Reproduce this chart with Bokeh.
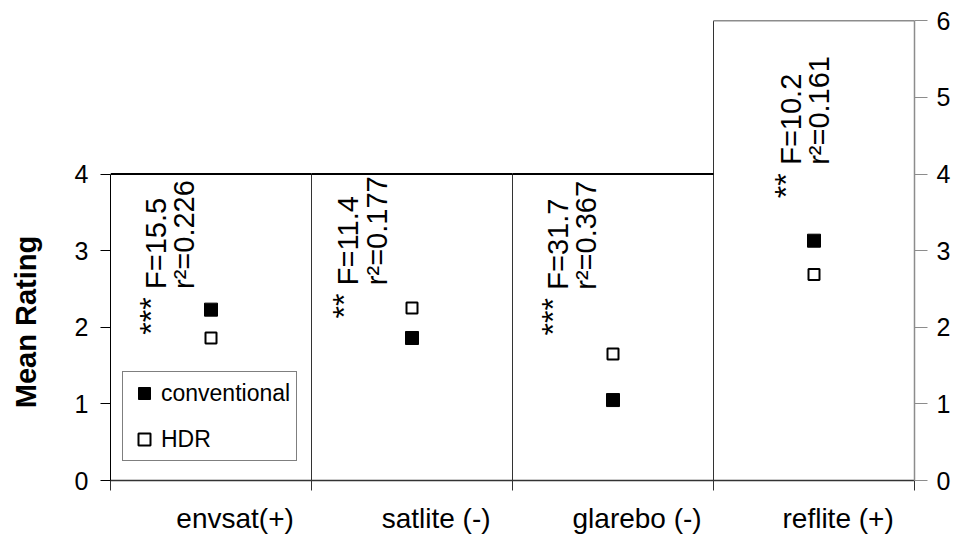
import math
from bokeh.plotting import figure
from bokeh.models import Range1d, LinearAxis, FixedTicker, Legend, LegendItem
from bokeh.core.properties import value
from bokeh.embed import file_html
from bokeh.resources import INLINE

# ---------------- data ----------------
categories = ["envsat(+)", "satlite (-)", "glarebo (-)", "reflite (+)"]
conventional = [2.23, 1.86, 1.05, 3.13]
hdr = [1.86, 2.25, 1.65, 2.69]
significance = ["***", "**", "***", "**"]
f_values = [15.5, 11.4, 31.7, 10.2]
r2_values = [0.226, 0.177, 0.367, 0.161]
panel_axis_max = [4, 4, 4, 6]          # panels 1-3 use the left axis (0-4), panel 4 the right axis (0-6)
left_ticks = [0, 1, 2, 3, 4]
right_ticks = [0, 1, 2, 3, 4, 5, 6]
y_title = "Mean Rating"

# ---------------- layout constants ----------------
FONT = "Liberation Sans"
n = len(categories)
centers = [i + 0.5 for i in range(n)]
boundaries = list(range(n + 1))
label_shift = 0.12
label_pos = [c + label_shift for c in centers]
ann_shift = [0.0, -0.04, 0.0, 0.16]      # per-panel horizontal shift of the annotation block
ann_base = [2.50, 2.55, 2.49, 4.12]      # where the rotated F / r2 text starts
dx_star, dx_f, dx_r2 = -0.298, -0.276, -0.136
star_gap = 0.11
title_pad = 18                           # non-breaking spaces to centre the title on the 0-4 part

p = figure(width=953, height=536,
           x_range=Range1d(0, n), y_range=Range1d(0, 6.03),
           output_backend="svg", toolbar_location=None,
           min_border_left=110, min_border_right=38,
           min_border_top=18, min_border_bottom=55)
p.outline_line_color = None
p.grid.visible = False
p.background_fill_color = "white"

# ---- panel borders ----
sep_x = boundaries[1:-1]
sep_top = [max(panel_axis_max[i - 1], panel_axis_max[i]) for i in sep_x]
p.segment(x0=sep_x, y0=[0] * len(sep_x), x1=sep_x, y1=sep_top,
          line_color="#333333", line_width=1)
left_idx = [i for i in range(n) if panel_axis_max[i] == max(left_ticks)]
right_idx = [i for i in range(n) if panel_axis_max[i] != max(left_ticks)]
p.segment(x0=[boundaries[i] for i in left_idx], x1=[boundaries[i + 1] for i in left_idx],
          y0=[panel_axis_max[i] for i in left_idx], y1=[panel_axis_max[i] for i in left_idx],
          line_color="black", line_width=2)
p.segment(x0=[boundaries[i] for i in right_idx], x1=[boundaries[i + 1] for i in right_idx],
          y0=[panel_axis_max[i] for i in right_idx], y1=[panel_axis_max[i] for i in right_idx],
          line_color="#8c8c8c", line_width=1.5)

# ---- points ----
r_conv = p.scatter(x=centers, y=conventional, marker="square", size=13,
                   fill_color="black", line_color="black", line_width=1)
r_hdr = p.scatter(x=centers, y=hdr, marker="square", size=11,
                  fill_color="white", line_color="black", line_width=2)

# ---- annotations ----
star_x = [c + s + dx_star for c, s in zip(centers, ann_shift)]
f_x = [c + s + dx_f for c, s in zip(centers, ann_shift)]
r2_x = [c + s + dx_r2 for c, s in zip(centers, ann_shift)]
star_y = [b - star_gap for b in ann_base]
f_text = [f"F={v}" for v in f_values]
r2_text = [f"r\u00b2={v:.3f}" for v in r2_values]

p.text(x=star_x, y=star_y, text=significance, angle=math.pi / 2,
       text_align="right", text_baseline="middle",
       text_font=value(FONT), text_font_size="32px", text_color="black")
p.text(x=f_x, y=ann_base, text=f_text, angle=math.pi / 2,
       text_align="left", text_baseline="middle",
       text_font=value(FONT), text_font_size="29px", text_color="black")
p.text(x=r2_x, y=ann_base, text=r2_text, angle=math.pi / 2,
       text_align="left", text_baseline="middle",
       text_font=value(FONT), text_font_size="29px", text_color="black")

# ---- left axis ----
ya = p.yaxis[0]
ya.ticker = FixedTicker(ticks=left_ticks)
ya.bounds = (min(left_ticks), max(left_ticks))
ya.axis_line_color = "black"
ya.major_tick_line_color = "black"
ya.major_tick_out = 10
ya.major_tick_in = 0
ya.minor_tick_line_color = None
ya.major_label_text_font = FONT
ya.major_label_text_font_size = "25px"
ya.major_label_text_color = "black"
ya.major_label_standoff = 12
ya.axis_label = y_title + "\u00a0" * title_pad
ya.axis_label_text_font = FONT
ya.axis_label_text_font_style = "bold"
ya.axis_label_text_font_size = "29px"
ya.axis_label_text_color = "black"
ya.axis_label_standoff = 30

# ---- right axis ----
ra = LinearAxis(ticker=FixedTicker(ticks=right_ticks),
                bounds=(min(right_ticks), max(right_ticks)))
ra.axis_line_color = "#8c8c8c"
ra.axis_line_width = 1.5
ra.major_tick_line_color = "#8c8c8c"
ra.major_tick_out = 13
ra.major_tick_in = 0
ra.minor_tick_line_color = None
ra.major_label_text_font = FONT
ra.major_label_text_font_size = "25px"
ra.major_label_text_color = "black"
ra.major_label_standoff = 9
p.add_layout(ra, "right")

# ---- bottom axis ----
xa = p.xaxis[0]
xa.ticker = FixedTicker(ticks=label_pos, minor_ticks=boundaries)
xa.major_label_overrides = {pos: lab for pos, lab in zip(label_pos, categories)}
xa.major_tick_line_color = None
xa.major_tick_out = 10
xa.major_tick_in = 0
xa.minor_tick_out = 10
xa.minor_tick_in = 0
xa.minor_tick_line_color = "#333333"
xa.axis_line_color = "#333333"
xa.axis_line_width = 1.5
xa.major_label_text_font = FONT
xa.major_label_text_font_size = "28px"
xa.major_label_text_color = "black"
xa.major_label_standoff = 12

# ---- legend ----
legend = Legend(items=[LegendItem(label="conventional", renderers=[r_conv]),
                       LegendItem(label="HDR", renderers=[r_hdr])],
                location=(12, 19), margin=0, padding=6, spacing=16,
                glyph_width=30, glyph_height=30, label_standoff=2,
                label_text_font=FONT, label_text_font_size="23px",
                label_text_color="black",
                border_line_color="black", border_line_width=1,
                background_fill_color="white", background_fill_alpha=1.0)
p.add_layout(legend)

open("out.html", "w").write(file_html(p, INLINE))
